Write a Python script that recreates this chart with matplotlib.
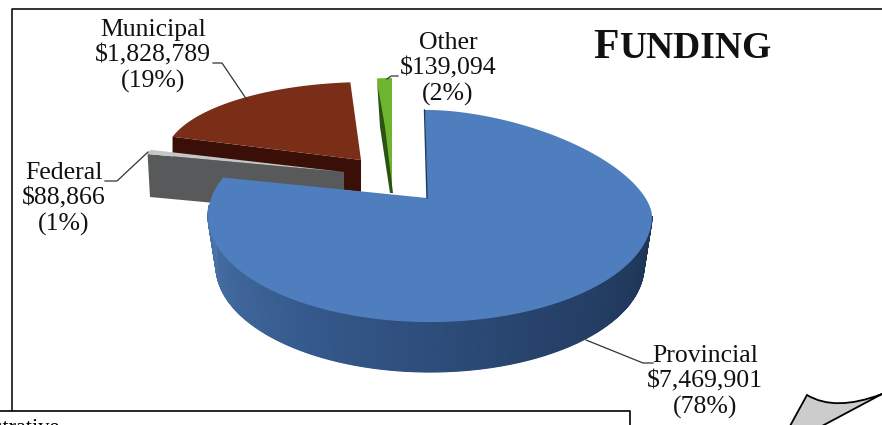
import numpy as np
import matplotlib
matplotlib.use('Agg')
import matplotlib.pyplot as plt
from matplotlib.colors import LinearSegmentedColormap
from matplotlib.patches import Polygon, PathPatch
from matplotlib.path import Path

# funding, in slice order clockwise from 12 o'clock
names = ['Provincial', 'Federal', 'Municipal', 'Other']
amounts = [7469901, 88866, 1828789, 139094]
percents = [78, 1, 19, 2]

plt.rcParams['font.family'] = ['Liberation Serif', 'DejaVu Serif']

# exploded slices: apex and ellipse (pixels of the picture)
apex = {'Provincial': (427, 198), 'Federal': (344, 172), 'Municipal': (361, 160), 'Other': (392, 193)}
ellipse = {'Provincial': (430, 216, 222, 106), 'Federal': (343, 170, 200, 75),
           'Municipal': (369, 157, 204, 75), 'Other': (392, 193, 165, 115)}
top_color = {'Provincial': '#4f7ebf', 'Federal': '#c4c6c8', 'Municipal': '#7a2e17', 'Other': '#6db52f'}

label_pos = {'Provincial': (705, 382), 'Federal': (64, 199), 'Municipal': (153, 56), 'Other': (448, 69)}
leaders = {'Provincial': [(586, 340), (643, 363), (653, 363)],
           'Federal': [(148, 152), (117, 181), (105, 181)],
           'Municipal': [(247, 100), (222, 63), (213, 63)],
           'Other': [(387, 79), (391, 76), (398, 76)]}


def rim(name, a0, a1, n=120):
    cx, cy, rx, ry = ellipse[name]
    t = np.radians(np.linspace(a0, a1, n))
    return np.column_stack([cx + rx * np.sin(t), cy - ry * np.cos(t)])


def provincial_rim(a1, n=300):
    # the far right quadrant of the picture is flatter than an ellipse,
    # and perspective pushes the end of the slice further round
    cx, cy, rx, ry = ellipse['Provincial']
    t = np.radians(np.linspace(0, a1 + 9, n))
    s, c = np.sin(t), np.cos(t)
    far_right = (s > 0) & (c > 0)
    s[far_right] = s[far_right] ** 1.18
    c[far_right] = c[far_right] ** 1.18
    return np.column_stack([cx + rx * s, cy - ry * c])


def main():
    fig = plt.figure(figsize=(8.82, 4.25), dpi=100)
    ax = fig.add_axes([0, 0, 1, 1])
    ax.set_xlim(0, 882)
    ax.set_ylim(425, 0)
    ax.axis('off')

    edges = np.cumsum([0] + amounts) / sum(amounts) * 360
    span = {n: (edges[i], edges[i + 1]) for i, n in enumerate(names)}

    # municipal: cut face, then the top
    a0, a1 = span['Municipal']
    p = rim('Municipal', a0, a0, 1)[0]
    ax.add_patch(Polygon([p, apex['Municipal'], (361, 192), (p[0], p[1] + 32)], fc='#3a0f07', ec='none'))
    ax.add_patch(Polygon(np.vstack([apex['Municipal'], rim('Municipal', a0, a1)]), fc=top_color['Municipal'], ec='none'))

    # federal: grey cut face with a light strip on top
    a0, a1 = span['Federal']
    p = rim('Federal', a0, a0, 1)[0]
    ax.add_patch(Polygon([p, apex['Federal'], (344, 215), (150, 197)], fc='#58595b', ec='none'))
    ax.add_patch(Polygon(np.vstack([apex['Federal'], rim('Federal', a0, a1)]), fc=top_color['Federal'], ec='none'))

    # other: thin green slice with a dark sliver of its cut face
    a0, a1 = span['Other']
    ax.add_patch(Polygon(np.vstack([apex['Other'], rim('Other', a0, a1)]), fc=top_color['Other'], ec='none'))
    ax.add_patch(Polygon([(377, 80), (380, 127), (390, 193), (393, 193), (385, 127), (378, 87)], fc='#2b5212', ec='none'))

    # provincial: outer wall as thin quads, dark towards the right
    wall_cmap = LinearSegmentedColormap.from_list('wall', ['#1d3352', '#27436c', '#35598c', '#4a74aa'])
    a0, a1 = 90, 276
    top = rim('Provincial', a0, a1, 300)
    t = np.radians(np.linspace(a0, a1, 300))
    low = np.column_stack([430 + 214 * np.sin(t), 266 - 106 * np.cos(t)])
    for i in range(len(t) - 1):
        col = wall_cmap(i / (len(t) - 2))
        ax.add_patch(Polygon([top[i], top[i + 1], low[i + 1], low[i]], fc=col, ec=col, lw=0.8))
    a1 = span['Provincial'][1]
    ax.add_patch(Polygon(np.vstack([apex['Provincial'], (425, 110), provincial_rim(a1)]),
                         fc=top_color['Provincial'], ec='none'))
    ax.plot([424.5, 427], [110, 198], color='#1f3a60', lw=1)

    # labels and leader lines
    for i, n in enumerate(names):
        x, y = label_pos[n]
        ax.text(x, y, f'{n}\n${amounts[i]:,}\n({percents[i]}%)', ha='center', va='center',
                ma='center', fontsize=18.5, linespacing=1.2, color='#111111')
        ax.plot(*zip(*leaders[n]), color='#333333', lw=0.9)

    # title in small caps
    ax.text(593, 58, 'F', fontsize=30, fontweight='bold', va='baseline', color='#111111')
    ax.text(619, 58, 'UNDING', fontsize=27, fontweight='bold', va='baseline', color='#111111')

    # frame of the chart and the box under it
    ax.plot([882, 12, 12], [9, 9, 410], color='#111111', lw=1.2, clip_on=False)
    ax.plot([0, 630, 630], [410.5, 410.5, 425], color='black', lw=1.2, clip_on=False)
    ax.text(60, 433, 'Administrative', fontsize=16, ha='right', va='baseline', color='black')

    # corner of the callout shape at bottom right
    verts = [(790, 426), (807, 395), (835, 412), (882, 394), (822, 426), (790, 426)]
    codes = [Path.MOVETO, Path.LINETO, Path.CURVE3, Path.CURVE3, Path.LINETO, Path.CLOSEPOLY]
    ax.add_patch(PathPatch(Path(verts, codes), fc='#cccccc', ec='black', lw=1.3))

    fig.savefig('out.png', dpi=100)


if __name__ == '__main__':
    main()
